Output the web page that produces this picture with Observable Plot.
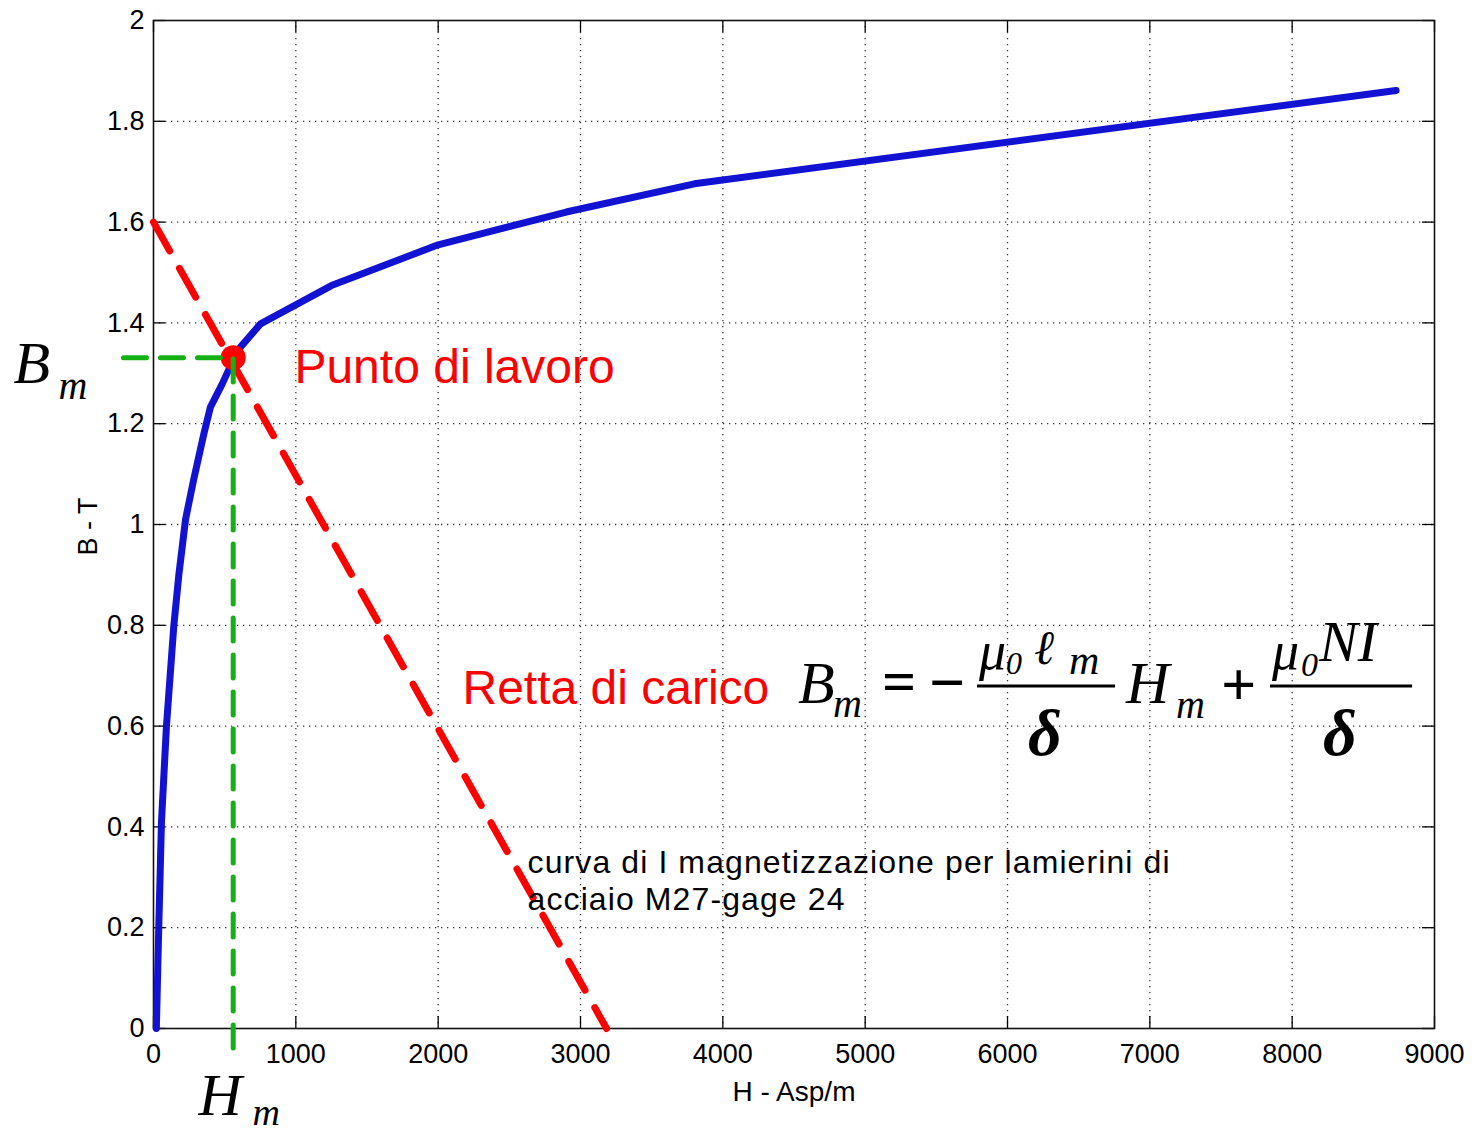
<!DOCTYPE html>
<html>
<head>
<meta charset="utf-8">
<script src="https://cdn.jsdelivr.net/npm/d3@7"></script>
<script src="https://cdn.jsdelivr.net/npm/@observablehq/plot@0.6"></script>
<style>
  html, body { margin: 0; padding: 0; background: #fff; }
  #chart svg { display: block; }
</style>
</head>
<body>
<div id="chart"></div>
<script>
// ---- data ----
// B-H magnetisation curve (H in A/m, B in T)
const curveH = [20, 37, 56, 91, 143, 178, 225, 283, 354, 400, 483, 569, 611, 752, 1250, 2000, 2900, 3800, 8730];
const curveB = [0, 0.2, 0.41, 0.6, 0.8, 0.9, 1.01, 1.09, 1.18, 1.233, 1.279, 1.332, 1.352, 1.398, 1.474, 1.555, 1.62, 1.676, 1.861];
// load line intercepts
const loadLineH = [0, 3183];
const loadLineB = [1.6, 0];
// working point
const workH = 560;
const workB = 1.331;
// guide (dashed green) extents beyond the frame
const guideStartH = -211;
const guideEndB = -0.048;
// ticks
const xTicks = [0, 1000, 2000, 3000, 4000, 5000, 6000, 7000, 8000, 9000];
const yTicks = [0, 0.2, 0.4, 0.6, 0.8, 1, 1.2, 1.4, 1.6, 1.8, 2];
const xTickLabels = ["0", "1000", "2000", "3000", "4000", "5000", "6000", "7000", "8000", "9000"];
const yTickLabels = ["0", "0.2", "0.4", "0.6", "0.8", "1", "1.2", "1.4", "1.6", "1.8", "2"];
// texts
const xLabel = "H - Asp/m";
const yLabel = "B - T";
const pointLabel = "Punto di lavoro";
const lineLabel = "Retta di carico";
const captionLines = ["curva di I magnetizzazione per lamierini di", "acciaio M27-gage 24"];

// ---- build ----
const curve = curveH.map((h, i) => ({H: h, B: curveB[i]}));
const loadLine = loadLineH.map((h, i) => ({H: h, B: loadLineB[i]}));
const work = {H: workH, B: workB};
const guide = [{H: guideStartH, B: workB}, {H: workH, B: workB}, {H: workH, B: guideEndB}];

const W = 1472, HGT = 1133;
const mL = 153, mR = 38, mT = 20, mB = 105;
const fw = W - mL - mR, fh = HGT - mT - mB;
const tick = 12;

const sans = "'Liberation Sans', Arial, Helvetica, sans-serif";
const serif = "'Liberation Serif', 'Times New Roman', Times, serif";
const red = "#ff0000";

const common = {stroke: "#000", strokeWidth: 1.3};
const grid = {stroke: "#000", strokeOpacity: 0.8, strokeWidth: 1.3, strokeDasharray: "1.3,4.7"};

// formula pieces: anchor in data space + pixel offsets
const fAnchor = {H: 4500, B: 0.6825};
const formula = [
  {t: "B", dx: 4, dy: 18, size: 60},
  {t: "m", dx: 39, dy: 32, size: 40},
  {t: "=", dx: 88, dy: 16, size: 60, upright: true, bold: true},
  {t: "\u2212", dx: 135, dy: 19, size: 64, upright: true, bold: true},
  {t: "\u03bc", dx: 185, dy: -16, size: 54},
  {t: "0", dx: 212, dy: -11, size: 32},
  {t: "\u2113", dx: 240, dy: -21, size: 48},
  {t: "m", dx: 275, dy: -11, size: 42},
  {t: "\u03b4", dx: 234, dy: 70, size: 66, bold: true},
  {t: "H", dx: 332, dy: 18, size: 60},
  {t: "m", dx: 382, dy: 33, size: 40},
  {t: "+", dx: 427, dy: 20, size: 62, upright: true, bold: true},
  {t: "\u03bc", dx: 478, dy: -16, size: 54},
  {t: "0", dx: 507, dy: -9, size: 34},
  {t: "NI", dx: 525, dy: -24, size: 58},
  {t: "\u03b4", dx: 529, dy: 70, size: 66, bold: true}
];
const fracBars = [{x1: 5789, x2: 6759}, {x1: 7848, x2: 8846}];
const fracBarB = 0.6796;

const formulaMarks = formula.map(p => Plot.text([fAnchor], {
  x: "H", y: "B", text: () => p.t, dx: p.dx, dy: p.dy,
  textAnchor: "start", lineAnchor: "bottom",
  fontSize: p.size, fontFamily: serif,
  fontStyle: p.upright ? "normal" : "italic",
  fontWeight: p.bold ? "bold" : "normal",
  fill: "#000"
}));

const plot = Plot.plot({
  width: W, height: HGT,
  marginLeft: mL, marginRight: mR, marginTop: mT, marginBottom: mB,
  style: {fontFamily: sans, fontSize: "27px", background: "#fff", color: "#000", overflow: "visible"},
  x: {domain: [0, 9000], ticks: xTicks, tickFormat: (d) => xTickLabels[xTicks.indexOf(d)], tickSize: 0, tickPadding: 15, label: null},
  y: {domain: [0, 2], ticks: yTicks, tickFormat: (d) => yTickLabels[yTicks.indexOf(d)], tickSize: 0, tickPadding: 9, label: null},
  marks: [
    Plot.ruleX(xTicks.slice(1, -1), grid),
    Plot.ruleY(yTicks.slice(1, -1), grid),
    Plot.ruleX(xTicks, {...common, insetTop: fh - tick}),
    Plot.ruleX(xTicks, {...common, insetBottom: fh - tick}),
    Plot.ruleY(yTicks, {...common, insetRight: fw - tick}),
    Plot.ruleY(yTicks, {...common, insetLeft: fw - tick}),
    Plot.frame({stroke: "#111", strokeWidth: 1.6}),
    Plot.line(curve, {x: "H", y: "B", stroke: "#1212d2", strokeWidth: 7, strokeLinejoin: "round"}),
    Plot.line(loadLine, {x: "H", y: "B", stroke: red, strokeWidth: 7, strokeDasharray: "33,20"}),
    Plot.dot([work], {x: "H", y: "B", r: 12.5, fill: red, stroke: "none"}),
    Plot.line(guide, {x: "H", y: "B", stroke: "#14b014", strokeWidth: 5, strokeDasharray: "23,14"}),
    // axis titles
    Plot.text([xLabel], {frameAnchor: "bottom", dy: 64, text: d => d, fontSize: 28, lineAnchor: "middle", fill: "#000"}),
    Plot.text([yLabel], {frameAnchor: "left", dx: -65, dy: 31, rotate: -90, text: d => d, fontSize: 27, lineAnchor: "middle", fill: "#000"}),
    // red annotations
    Plot.text([{H: 990, B: 1.2798}], {x: "H", y: "B", text: () => pointLabel, fontSize: 48, fill: red, textAnchor: "start", lineAnchor: "bottom"}),
    Plot.text([{H: 2171, B: 0.6448}], {x: "H", y: "B", text: () => lineLabel, fontSize: 48, fill: red, textAnchor: "start", lineAnchor: "bottom"}),
    // caption
    Plot.text(captionLines.map((t, i) => ({t, H: 2628, B: 0.3095 - i * 0.0735})), {x: "H", y: "B", text: "t", fontSize: 32, fill: "#000", textAnchor: "start", lineAnchor: "bottom"}),
    // big B_m and H_m
    Plot.text([{H: -984, B: 1.2817}], {x: "H", y: "B", text: () => "B", fontSize: 60, fontFamily: serif, fontStyle: "italic", fill: "#000", textAnchor: "start", lineAnchor: "bottom"}),
    Plot.text([{H: -667, B: 1.25}], {x: "H", y: "B", text: () => "m", fontSize: 40, fontFamily: serif, fontStyle: "italic", fill: "#000", textAnchor: "start", lineAnchor: "bottom"}),
    Plot.text([{H: 316, B: -0.1726}], {x: "H", y: "B", text: () => "H", fontSize: 60, fontFamily: serif, fontStyle: "italic", fill: "#000", textAnchor: "start", lineAnchor: "bottom"}),
    Plot.text([{H: 695, B: -0.1905}], {x: "H", y: "B", text: () => "m", fontSize: 38, fontFamily: serif, fontStyle: "italic", fill: "#000", textAnchor: "start", lineAnchor: "bottom"}),
    // formula
    ...formulaMarks,
    Plot.ruleY(fracBars, {y: () => fracBarB, x1: "x1", x2: "x2", stroke: "#000", strokeWidth: 3})
  ]
});

// caption letter spacing to match the reference's wider text
d3.select(plot).selectAll("text").filter(function() {
  return captionLines.includes(this.textContent);
}).attr("letter-spacing", "1.1px");

document.getElementById("chart").appendChild(plot);
</script>
</body>
</html>
